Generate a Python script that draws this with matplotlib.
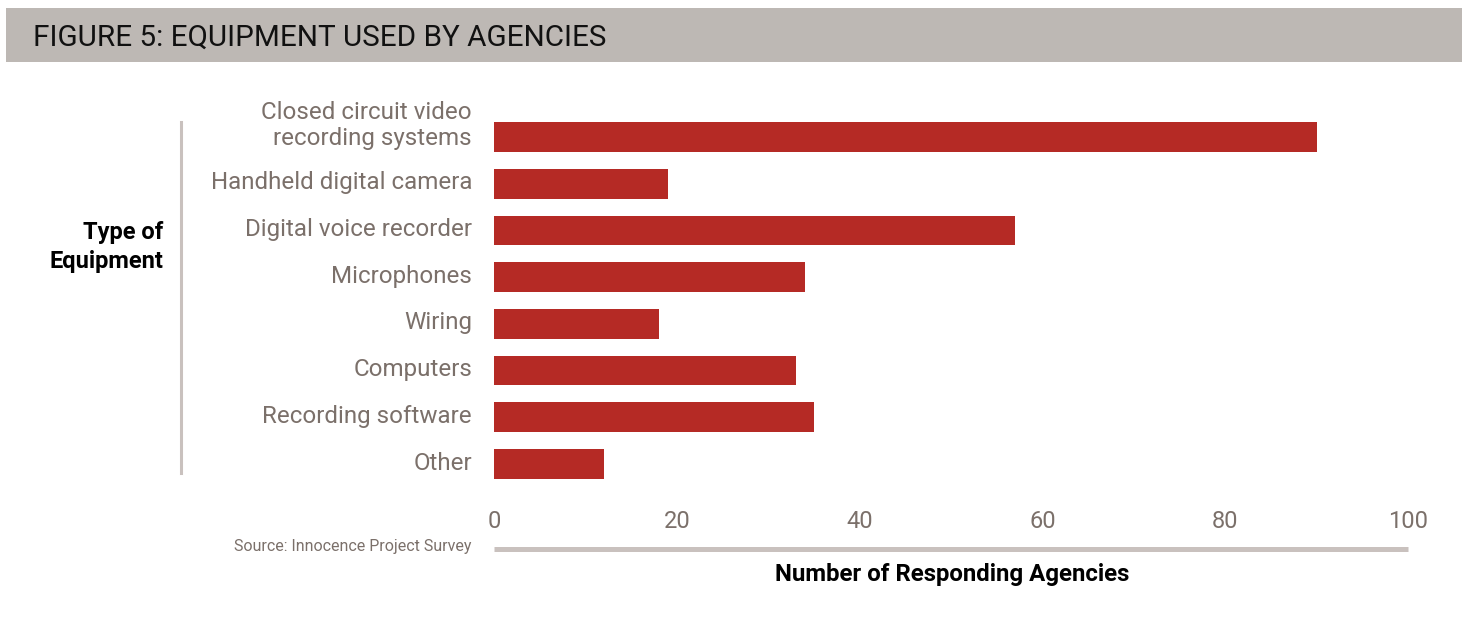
import matplotlib
matplotlib.use("Agg")
import matplotlib.pyplot as plt
from matplotlib.patches import Rectangle
from matplotlib.lines import Line2D

categories = ["Closed circuit video\nrecording systems", "Handheld digital camera",
              "Digital voice recorder", "Microphones", "Wiring", "Computers",
              "Recording software", "Other"]
values = [90, 19, 57, 34, 18, 33, 35, 12]
xticks = [0, 20, 40, 60, 80, 100]

title = "FIGURE 5: EQUIPMENT USED BY AGENCIES"
ylabel = "Type of\nEquipment"
xlabel = "Number of Responding Agencies"
source = "Source: Innocence Project Survey"

BAR = "#B52A25"
LABEL = "#7B706A"
BAND = "#BDB8B4"
RULE = "#C9C1BE"

plt.rcParams['font.family'] = ['Roboto', 'DejaVu Sans']

fig = plt.figure(figsize=(14.73, 6.2), dpi=100)
W, H = 1473, 620

def fx(px):
    return px / W

def fy(py):
    return 1 - py / H

# Header band
fig.patches.append(Rectangle((fx(6), fy(62)), fx(1456), (62 - 8) / H,
                             transform=fig.transFigure, facecolor=BAND,
                             edgecolor='none', zorder=0))
fig.text(fx(33), fy(37.5), title, fontsize=21.3, color="#111111",
         ha='left', va='center')

ax = fig.add_axes([fx(494), fy(487.3), fx(914), 373.6 / H])
y = list(range(len(categories)))
ax.barh(y, values, height=0.64, color=BAR)
ax.set_xlim(0, 100)
ax.set_ylim(len(categories) - 0.5, -0.5)
ax.set_xticks(xticks)
ax.set_xticklabels([str(t) for t in xticks], fontsize=17, color=LABEL)
ax.tick_params(axis='x', length=0, pad=16)
ax.set_yticks([])
for s in ax.spines.values():
    s.set_visible(False)

for i, lab in enumerate(categories):
    nlines = lab.count("\n")
    ax.text(-0.024, i - 0.22 * nlines - 0.02, lab, transform=ax.get_yaxis_transform(),
            ha='right', va='center', fontsize=17.4, color=LABEL, linespacing=1.15)

# Left vertical rule and y label
fig.add_artist(Line2D([fx(181), fx(181)], [fy(122), fy(473)], color=RULE,
                      lw=2.2, transform=fig.transFigure))
fig.text(fx(163), fy(247), ylabel, fontsize=17, fontweight='bold', color='black',
         ha='right', va='center', linespacing=1.35)

# Bottom rule under ticks
fig.add_artist(Line2D([fx(494), fx(1408)], [fy(549), fy(549)], color=RULE,
                      lw=3.6, transform=fig.transFigure, solid_capstyle='butt'))
fig.text(fx(472), fy(547), source, fontsize=11.5, color=LABEL, ha='right', va='center')
fig.text(fx(952), fy(574), xlabel, fontsize=17.3, fontweight='bold', color='black',
         ha='center', va='center')

fig.savefig("out.png", dpi=100, facecolor='white')
